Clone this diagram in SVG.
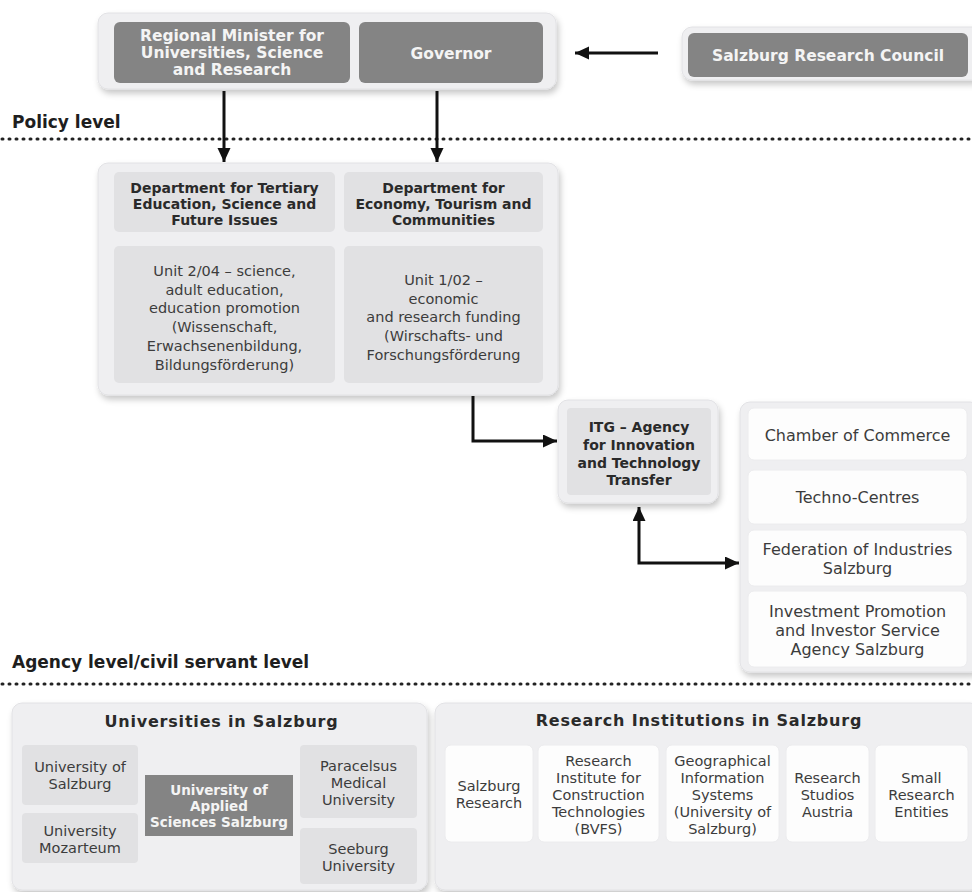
<svg xmlns="http://www.w3.org/2000/svg" width="972" height="892" viewBox="0 0 972 892">
<defs>
<filter id="sh" x="-10%" y="-10%" width="125%" height="130%">
<feDropShadow dx="2" dy="4" stdDeviation="3" flood-color="#000" flood-opacity="0.22"/>
</filter>
<marker id="ah" markerUnits="userSpaceOnUse" markerWidth="16" markerHeight="14" refX="14" refY="6.5" orient="auto-start-reverse">
<path d="M0,0 L14,6.5 L0,13 z" fill="#111"/>
</marker>
<style>
.cont{fill:#efeff1;stroke:#e2e2e5;stroke-width:1;filter:url(#sh)}
.dark{fill:#848484}
.lite{fill:#e1e1e3}
.wht{fill:#fdfdfd;stroke:#ececee;stroke-width:1}
text{font-family:"DejaVu Sans","Liberation Sans",sans-serif;text-anchor:middle}
.tw{font-weight:bold;fill:#f4f4f4;font-size:15.5px}
.tb{font-weight:bold;fill:#2a2a2a;font-size:14px}
.tr{fill:#3c3c3c;font-size:14.5px}
.tr16{fill:#3c3c3c;font-size:16px}
.tr15{fill:#3c3c3c;font-size:14.5px}
.ttl{font-weight:bold;fill:#2a2a2a;font-size:16px;letter-spacing:0.8px}
.lvl{font-weight:bold;fill:#1e1e1e;font-size:17px;text-anchor:start}
.dots{stroke:#222;stroke-width:3;stroke-dasharray:1 6;stroke-linecap:round}
.conn{fill:none;stroke:#111;stroke-width:3}
</style>
</defs>
<rect width="972" height="892" fill="#ffffff"/>

<g id="levels">
<text class="lvl" x="12" y="128">Policy level</text>
<line class="dots" x1="2" y1="139" x2="972" y2="139"/>
<text class="lvl" x="12" y="668">Agency level/civil servant level</text>
<line class="dots" x1="2" y1="684" x2="972" y2="684"/>
</g>

<g id="top-group">
<rect class="cont" x="98" y="13" width="458" height="76" rx="10"/>
</g>
<g id="regional-minister">
<rect class="dark" x="114" y="22" width="236" height="61" rx="6"/>
<text class="tw" x="232" y="41">Regional Minister for</text>
<text class="tw" x="232" y="58">Universities, Science</text>
<text class="tw" x="232" y="75">and Research</text>
</g>
<g id="governor">
<rect class="dark" x="359" y="22" width="184" height="61" rx="6"/>
<text class="tw" x="451" y="59">Governor</text>
</g>
<g id="research-council">
<rect class="cont" x="682" y="27" width="300" height="53" rx="10"/>
<rect class="dark" x="688" y="33" width="280" height="44" rx="6"/>
<text class="tw" x="828" y="61">Salzburg Research Council</text>
</g>

<g id="departments">
<rect class="cont" x="98" y="163" width="460" height="232" rx="10"/>
</g>
<g id="dept-tertiary">
<rect class="lite" x="114" y="172" width="221" height="60" rx="5"/>
<text class="tb" x="224.5" y="193">Department for Tertiary</text>
<text class="tb" x="224.5" y="209">Education, Science and</text>
<text class="tb" x="224.5" y="225">Future Issues</text>
</g>
<g id="dept-economy">
<rect class="lite" x="344" y="172" width="199" height="60" rx="5"/>
<text class="tb" x="443.5" y="193">Department for</text>
<text class="tb" x="443.5" y="209">Economy, Tourism and</text>
<text class="tb" x="443.5" y="225">Communities</text>
</g>
<g id="unit-204">
<rect class="lite" x="114" y="246" width="221" height="137" rx="5"/>
<text class="tr" x="224.5" y="276">Unit 2/04 – science,</text>
<text class="tr" x="224.5" y="294.7">adult education,</text>
<text class="tr" x="224.5" y="313.4">education promotion</text>
<text class="tr" x="224.5" y="332">(Wissenschaft,</text>
<text class="tr" x="224.5" y="350.8">Erwachsenenbildung,</text>
<text class="tr" x="224.5" y="369.5">Bildungsförderung)</text>
</g>
<g id="unit-102">
<rect class="lite" x="344" y="246" width="199" height="137" rx="5"/>
<text class="tr" x="443.5" y="285">Unit 1/02 –</text>
<text class="tr" x="443.5" y="303.7">economic</text>
<text class="tr" x="443.5" y="322.4">and research funding</text>
<text class="tr" x="443.5" y="341">(Wirschafts- und</text>
<text class="tr" x="443.5" y="359.8">Forschungsförderung</text>
</g>

<g id="itg">
<rect class="cont" x="558" y="400" width="160" height="103" rx="10"/>
<rect class="lite" x="567" y="408" width="144" height="87" rx="4"/>
<text class="tb" x="639" y="431.5">ITG – Agency</text>
<text class="tb" x="639" y="449.5">for Innovation</text>
<text class="tb" x="639" y="467.5">and Technology</text>
<text class="tb" x="639" y="485">Transfer</text>
</g>

<g id="partners">
<rect class="cont" x="740" y="402" width="240" height="270" rx="10"/>
</g>
<g id="chamber">
<rect class="wht" x="748" y="408" width="219" height="52" rx="6"/>
<text class="tr16" x="857.5" y="441">Chamber of Commerce</text>
</g>
<g id="techno">
<rect class="wht" x="748" y="470" width="219" height="54" rx="6"/>
<text class="tr16" x="857.5" y="503">Techno-Centres</text>
</g>
<g id="federation">
<rect class="wht" x="748" y="530" width="219" height="56" rx="6"/>
<text class="tr16" x="857.5" y="555">Federation of Industries</text>
<text class="tr16" x="857.5" y="574">Salzburg</text>
</g>
<g id="investment">
<rect class="wht" x="748" y="591" width="219" height="76" rx="6"/>
<text class="tr16" x="857.5" y="617">Investment Promotion</text>
<text class="tr16" x="857.5" y="636">and Investor Service</text>
<text class="tr16" x="857.5" y="655">Agency Salzburg</text>
</g>

<g id="universities">
<rect class="cont" x="12" y="703" width="415" height="187" rx="10"/>
<text class="ttl" x="221.5" y="727">Universities in Salzburg</text>
</g>
<g id="uni-salzburg">
<rect class="lite" x="22" y="745" width="116" height="60" rx="4"/>
<text class="tr15" x="80" y="772">University of</text>
<text class="tr15" x="80" y="789">Salzburg</text>
</g>
<g id="uni-mozarteum">
<rect class="lite" x="22" y="813" width="116" height="50" rx="4"/>
<text class="tr15" x="80" y="836">University</text>
<text class="tr15" x="80" y="853">Mozarteum</text>
</g>
<g id="uni-applied">
<rect class="dark" x="145" y="775" width="148" height="61"/>
<text class="tw" style="font-size:13.5px" x="219" y="795">University of</text>
<text class="tw" style="font-size:13.5px" x="219" y="811">Applied</text>
<text class="tw" style="font-size:13.5px" x="219" y="827">Sciences Salzburg</text>
</g>
<g id="uni-paracelsus">
<rect class="lite" x="300" y="745" width="117" height="73" rx="4"/>
<text class="tr15" x="358.5" y="771">Paracelsus</text>
<text class="tr15" x="358.5" y="788">Medical</text>
<text class="tr15" x="358.5" y="805">University</text>
</g>
<g id="uni-seeburg">
<rect class="lite" x="300" y="828" width="117" height="56" rx="4"/>
<text class="tr15" x="358.5" y="854">Seeburg</text>
<text class="tr15" x="358.5" y="871">University</text>
</g>

<g id="research-institutions">
<rect class="cont" x="435" y="703" width="545" height="187" rx="10"/>
<text class="ttl" x="699" y="726">Research Institutions in Salzburg</text>
</g>
<g id="ri-salzburg-research">
<rect class="wht" x="445" y="745" width="88" height="97" rx="6"/>
<text class="tr15" x="489" y="791">Salzburg</text>
<text class="tr15" x="489" y="808">Research</text>
</g>
<g id="ri-bvfs">
<rect class="wht" x="538" y="745" width="121" height="97" rx="6"/>
<text class="tr15" x="598.5" y="766">Research</text>
<text class="tr15" x="598.5" y="783">Institute for</text>
<text class="tr15" x="598.5" y="800">Construction</text>
<text class="tr15" x="598.5" y="817">Technologies</text>
<text class="tr15" x="598.5" y="834">(BVFS)</text>
</g>
<g id="ri-gis">
<rect class="wht" x="666" y="745" width="113" height="97" rx="6"/>
<text class="tr15" x="722.5" y="766">Geographical</text>
<text class="tr15" x="722.5" y="783">Information</text>
<text class="tr15" x="722.5" y="800">Systems</text>
<text class="tr15" x="722.5" y="817">(University of</text>
<text class="tr15" x="722.5" y="834">Salzburg)</text>
</g>
<g id="ri-studios">
<rect class="wht" x="786" y="745" width="83" height="97" rx="6"/>
<text class="tr15" x="827.5" y="783">Research</text>
<text class="tr15" x="827.5" y="800">Studios</text>
<text class="tr15" x="827.5" y="817">Austria</text>
</g>
<g id="ri-small">
<rect class="wht" x="875" y="745" width="93" height="97" rx="6"/>
<text class="tr15" x="921.5" y="783">Small</text>
<text class="tr15" x="921.5" y="800">Research</text>
<text class="tr15" x="921.5" y="817">Entities</text>
</g>

<g id="connectors">
<path class="conn" d="M224,91 V162" marker-end="url(#ah)"/>
<path class="conn" d="M437,91 V162" marker-end="url(#ah)"/>
<path class="conn" d="M658,53 H575" marker-end="url(#ah)"/>
<path class="conn" d="M473,396 V441 H557" marker-end="url(#ah)"/>
<path class="conn" d="M639,507 V563 H739" marker-start="url(#ah)" marker-end="url(#ah)"/>
</g>
</svg>
